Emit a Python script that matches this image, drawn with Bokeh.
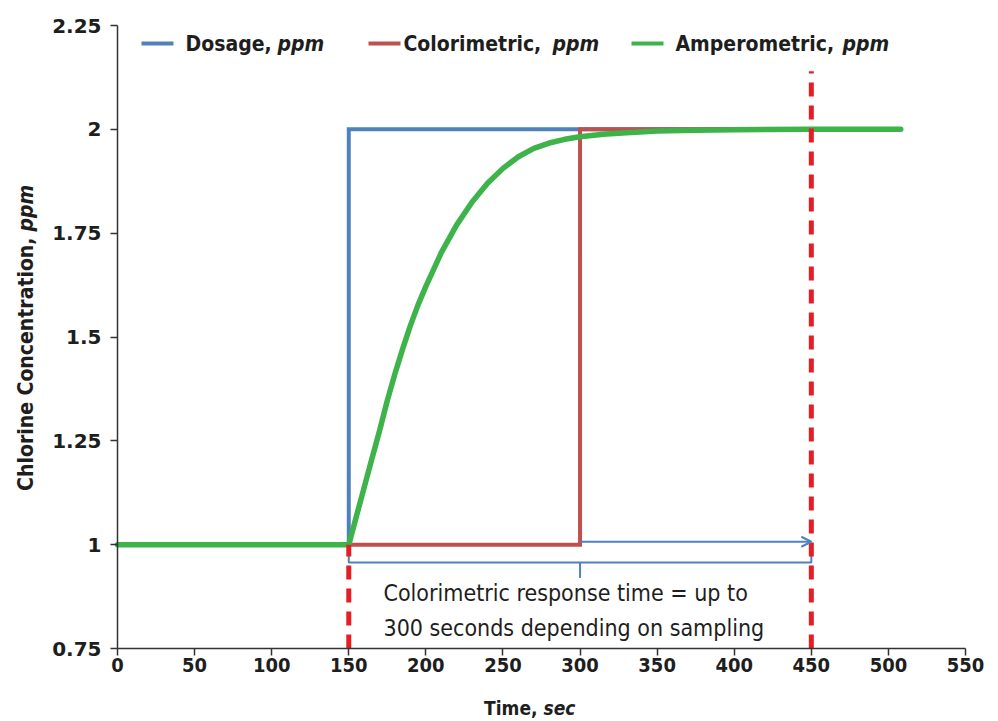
import math
from bokeh.plotting import figure
from bokeh.models import Range1d, FixedTicker, Label, BoxAnnotation, Arrow, OpenHead
from bokeh.embed import file_html
from bokeh.resources import INLINE

# ---------------- data ----------------
dosage_t = [0, 150, 150, 508]
dosage_v = [1.0, 1.0, 2.0, 2.0]

color_t = [0, 300, 300, 508]
color_v = [1.0, 1.0, 2.0, 2.0]

amp_t = [0, 150, 155, 160, 165, 170, 175, 180, 185, 190, 195, 200, 210, 220,
         230, 240, 250, 260, 270, 280, 290, 300, 315, 330, 350, 375, 400, 450, 508]
amp_v = [1.0, 1.0, 1.069, 1.138, 1.207, 1.275, 1.347, 1.412, 1.472, 1.528, 1.578,
         1.622, 1.703, 1.770, 1.825, 1.870, 1.906, 1.934, 1.954, 1.967, 1.976,
         1.982, 1.988, 1.992, 1.996, 1.998, 1.999, 2.0, 2.0]

marker_t = [150, 450]          # dosage change / end of colorimetric response window
marker_top = [1.0, 2.14]

response_start = 150
response_end = 450
colorimetric_step = 300

x_ticks = [0, 50, 100, 150, 200, 250, 300, 350, 400, 450, 500, 550]
y_ticks = [0.75, 1.0, 1.25, 1.5, 1.75, 2.0, 2.25]
y_tick_labels = ["0.75", "1", "1.25", "1.5", "1.75", "2", "2.25"]

series_names = ["Dosage,", "Colorimetric,", "Amperometric,"]
unit = "ppm"

# ---------------- layout (pixels) ----------------
W, H = 990, 718
X0, XMAX_PX = 117, 965        # pixel of x=0 and x=550
YTOP_PX, YBOT_PX = 25, 648    # pixel of y=2.25 and y=0.75
PXU = (XMAX_PX - X0) / 550.0
PYU = (YBOT_PX - YTOP_PX) / 1.5

# ---------------- style ----------------
BLUE = "#4f81bd"
RED = "#c0504d"
GREEN = "#3db34a"
DASH_RED = "#e31e24"
TXT = "#1e1e1e"
BOLD_C = "DejaVu Sans Condensed"

p = figure(width=W, height=H, output_backend="svg", toolbar_location=None,
           x_range=Range1d(-X0 / PXU, (W - X0) / PXU),
           y_range=Range1d(2.25 - (H - YTOP_PX) / PYU, 2.25 + YTOP_PX / PYU),
           min_border=0)
p.outline_line_color = None
p.grid.visible = False
p.background_fill_color = "white"
p.border_fill_color = "white"

for ax in (p.xaxis[0], p.yaxis[0]):
    ax.axis_line_color = "#333333"
    ax.axis_line_width = 1.5
    ax.major_tick_line_color = "#333333"
    ax.major_tick_line_width = 1.5
    ax.major_tick_out = 7
    ax.major_tick_in = 0
    ax.minor_tick_line_color = None
    ax.major_label_text_color = TXT
    ax.major_label_text_font_style = "bold"

p.xaxis.fixed_location = y_ticks[0]
p.xaxis.bounds = (x_ticks[0], x_ticks[-1])
p.xaxis.ticker = FixedTicker(ticks=x_ticks)
p.xaxis.major_label_text_font = BOLD_C
p.xaxis.major_label_text_font_size = "20px"
p.xaxis.major_label_standoff = 2

p.yaxis.fixed_location = x_ticks[0]
p.yaxis.bounds = (y_ticks[0], y_ticks[-1])
p.yaxis.ticker = FixedTicker(ticks=y_ticks)
p.yaxis.major_label_overrides = {t: s for t, s in zip(y_ticks, y_tick_labels)}
p.yaxis.major_label_text_font = "DejaVu Sans"
p.yaxis.major_label_text_font_size = "20px"
p.yaxis.major_label_standoff = 9

# ---------------- series ----------------
p.line(dosage_t, dosage_v, line_color=BLUE, line_width=4, line_join="miter")
p.line(color_t, color_v, line_color=RED, line_width=4, line_join="miter")
p.line(amp_t, amp_v, line_color=GREEN, line_width=5.5, line_cap="round", line_join="round")

# ---------------- response-time brace & arrow ----------------
brace_y = 0.957
brace_hook = 0.982
brace_tip = 0.92
p.line([response_start, response_start, response_end, response_end],
       [brace_hook, brace_y, brace_y, brace_hook + 0.005],
       line_color=BLUE, line_width=2)
mid = (response_start + response_end) / 2
p.segment(x0=[mid], y0=[brace_y], x1=[mid], y1=[brace_tip], line_color=BLUE, line_width=2)

p.add_layout(Arrow(x_start=colorimetric_step, y_start=1.007, x_end=response_end, y_end=1.007,
                   line_color=BLUE, line_width=2,
                   end=OpenHead(size=10, line_color=BLUE, line_width=2)))

# ---------------- red dashed markers ----------------
p.segment(x0=marker_t, y0=[y_ticks[0]] * 2, x1=marker_t, y1=marker_top,
          line_color=DASH_RED, line_width=5, line_dash="14 9")


def lbl(text, X, Y, size, style="bold", align="left", angle=0.0, font=BOLD_C):
    """Label placed by image pixel position (X right, Y down)."""
    p.add_layout(Label(x=X, y=H - Y, x_units="screen", y_units="screen", text=text,
                       angle=angle, text_font=font, text_font_style=style,
                       text_font_size=size, text_color=TXT,
                       text_baseline="middle", text_align=align))


# ---------------- annotation text ----------------
lbl("Colorimetric response time = up to", 383, 592, "23px", style="normal")
lbl("300 seconds depending on sampling", 383, 627, "23px", style="normal")

# ---------------- legend (manual, to allow italic units) ----------------
sw_colors = [BLUE, RED, GREEN]
sw_left = [141, 368, 631]
name_x = [185, 403, 675]
unit_x = [277, 552, 842]
LEG_Y = 43
for c, sl, nx, ux, nm in zip(sw_colors, sw_left, name_x, unit_x, series_names):
    p.add_layout(BoxAnnotation(left=sl, right=sl + 32, bottom=H - LEG_Y - 2, top=H - LEG_Y + 2,
                               left_units="screen", right_units="screen",
                               bottom_units="screen", top_units="screen",
                               fill_color=c, fill_alpha=1.0, line_color=None))
    lbl(nm, nx, LEG_Y, "21px")
    lbl(unit, ux, LEG_Y, "21px", style="bold italic")

# ---------------- axis titles (manual, to allow italic units) ----------------
lbl("Time,", 537, 707, "19px", align="right")
lbl("sec", 543, 707, "19px", style="bold italic")

lbl("Chlorine Concentration,", 25, 237, "21px", align="right", angle=math.pi / 2)
lbl(unit, 25, 231, "21px", style="bold italic", angle=math.pi / 2)

open("out.html", "w").write(file_html(p, INLINE))
